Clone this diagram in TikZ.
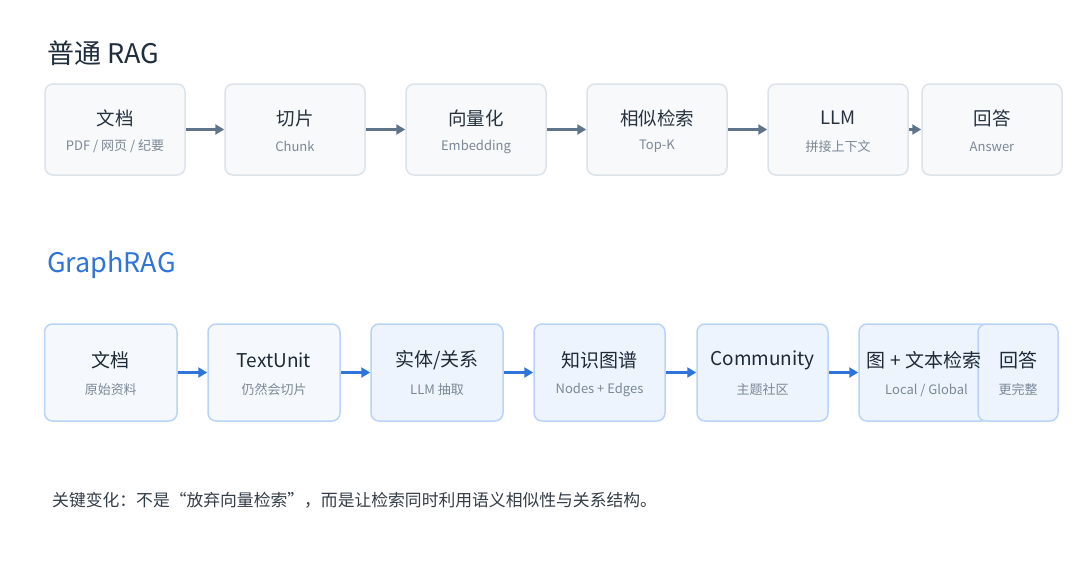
\documentclass[tikz,border=0pt]{standalone}
\usepackage{fontspec}
\setmainfont{Noto Sans CJK SC}
\usetikzlibrary{arrows.meta}
\definecolor{topfill}{HTML}{F7F9FB}
\definecolor{topdraw}{HTML}{DCE3EA}
\definecolor{toparr}{HTML}{5F7389}
\definecolor{toptitle}{HTML}{27323F}
\definecolor{topsub}{HTML}{7C8895}
\definecolor{gfillA}{HTML}{F5F9FE}
\definecolor{gfillB}{HTML}{EDF4FD}
\definecolor{gdraw}{HTML}{B9D4F6}
\definecolor{garr}{HTML}{2F74D9}
\definecolor{gtitle}{HTML}{1E2A38}
\definecolor{gsub}{HTML}{7B8896}
\definecolor{headdark}{HTML}{1F2D3D}
\definecolor{noteclr}{HTML}{333D47}
\tikzset{
  topbox/.style={draw=topdraw, fill=topfill, line width=1.5pt, rounded corners=8pt, inner sep=0pt, minimum height=91pt},
  gbox/.style={draw=gdraw, line width=1.5pt, rounded corners=8pt, inner sep=0pt, minimum height=97pt},
  ttitle/.style={text=toptitle, font=\fontsize{18.5}{21}\selectfont, inner sep=0pt},
  tsub/.style={text=topsub, font=\fontsize{13}{16}\selectfont, inner sep=0pt},
  gtitlest/.style={text=gtitle, font=\fontsize{19}{22}\selectfont, inner sep=0pt},
  gsubst/.style={text=gsub, font=\fontsize{13}{16}\selectfont, inner sep=0pt},
  toparrow/.style={draw=toparr, line width=2.5pt, -{Triangle[length=9pt,width=10pt]}},
  garrow/.style={draw=garr, line width=2.5pt, -{Triangle[length=9pt,width=10pt]}},
}
\begin{document}
\begin{tikzpicture}[x=1pt,y=-1pt]
\useasboundingbox[fill=white] (0,0) rectangle (1080,566);

% headings
\node[anchor=west, text=headdark, font=\fontsize{27}{31}\selectfont, inner sep=0pt] (h1) at (47,53) {普通 RAG};
\node[anchor=west, text=garr, font=\fontsize{27}{31}\selectfont, inner sep=0pt] (h2) at (47,265) {GraphRAG};

% top row
\node[topbox, minimum width=140pt] (a1) at (115,129.5) {};
\node[topbox, minimum width=140pt] (a2) at (295,129.5) {};
\node[topbox, minimum width=140pt] (a3) at (476,129.5) {};
\node[topbox, minimum width=140pt] (a4) at (657,129.5) {};
\node[topbox, minimum width=140pt] (a5) at (838,129.5) {};
\node[topbox, minimum width=140pt] (a6) at (992,129.5) {};

\node[ttitle] (a1t) at ([yshift=11.5pt]a1.center) {文档};
\node[tsub] (a1s) at ([yshift=-17pt]a1.center) {PDF / 网页 / 纪要};
\node[ttitle] (a2t) at ([yshift=11.5pt]a2.center) {切片};
\node[tsub] (a2s) at ([yshift=-17pt]a2.center) {Chunk};
\node[ttitle] (a3t) at ([yshift=11.5pt]a3.center) {向量化};
\node[tsub] (a3s) at ([yshift=-17pt]a3.center) {Embedding};
\node[ttitle] (a4t) at ([yshift=11.5pt]a4.center) {相似检索};
\node[tsub] (a4s) at ([yshift=-17pt]a4.center) {Top-K};
\node[ttitle] (a5t) at ([yshift=11.5pt]a5.center) {LLM};
\node[tsub] (a5s) at ([yshift=-17pt]a5.center) {拼接上下文};
\node[ttitle] (a6t) at ([yshift=11.5pt]a6.center) {回答};
\node[tsub] (a6s) at ([yshift=-17pt]a6.center) {Answer};

\draw[toparrow] (a1.east) -- (a2.west);
\draw[toparrow] (a2.east) -- (a3.west);
\draw[toparrow] (a3.east) -- (a4.west);
\draw[toparrow] (a4.east) -- (a5.west);
\draw[toparrow] (a5.east) -- (a6.west);

% GraphRAG row
\node[gbox, fill=gfillA, minimum width=132.5pt] (b1) at (110.75,372.5) {};
\node[gbox, fill=gfillA, minimum width=132pt] (b2) at (274,372.5) {};
\node[gbox, fill=gfillB, minimum width=132pt] (b3) at (437,372.5) {};
\node[gbox, fill=gfillB, minimum width=131pt] (b4) at (599.5,372.5) {};
\node[gbox, fill=gfillB, minimum width=131pt] (b5) at (762.5,372.5) {};
\node[gbox, fill=gfillB, minimum width=131pt] (b6) at (924.5,372.5) {};

\node[gtitlest] (b1t) at ([yshift=12.5pt]b1.center) {文档};
\node[gsubst] (b1s) at ([yshift=-17.5pt]b1.center) {原始资料};
\node[gtitlest] (b2t) at ([yshift=12.5pt]b2.center) {TextUnit};
\node[gsubst] (b2s) at ([yshift=-17.5pt]b2.center) {仍然会切片};
\node[gtitlest] (b3t) at ([yshift=12.5pt]b3.center) {实体/关系};
\node[gsubst] (b3s) at ([yshift=-17.5pt]b3.center) {LLM 抽取};
\node[gtitlest] (b4t) at ([yshift=12.5pt]b4.center) {知识图谱};
\node[gsubst] (b4s) at ([yshift=-17.5pt]b4.center) {Nodes + Edges};
\node[gtitlest] (b5t) at ([yshift=12.5pt]b5.center) {Community};
\node[gsubst] (b5s) at ([yshift=-17.5pt]b5.center) {主题社区};

\node[gbox, fill=gfillB, minimum width=80pt] (b7) at (1018,372.5) {};
\node[gtitlest] (b6t) at ([xshift=-0.5pt,yshift=12.5pt]b6.center) {图 + 文本检索};
\node[gsubst] (b6s) at ([xshift=2pt,yshift=-17.5pt]b6.center) {Local / Global};
\node[gtitlest] (b7t) at ([yshift=12.5pt]b7.center) {回答};
\node[gsubst] (b7s) at ([yshift=-17.5pt]b7.center) {更完整};

\draw[garrow] (b1.east) -- (b2.west);
\draw[garrow] (b2.east) -- (b3.west);
\draw[garrow] (b3.east) -- (b4.west);
\draw[garrow] (b4.east) -- (b5.west);
\draw[garrow] (b5.east) -- (b6.west);

% note
\node[anchor=west, text=noteclr, font=\fontsize{16.8}{20}\selectfont, inner sep=0pt] (note) at (52,500) {关键变化：不是“放弃向量检索”，而是让检索同时利用语义相似性与关系结构。};
\end{tikzpicture}
\end{document}
